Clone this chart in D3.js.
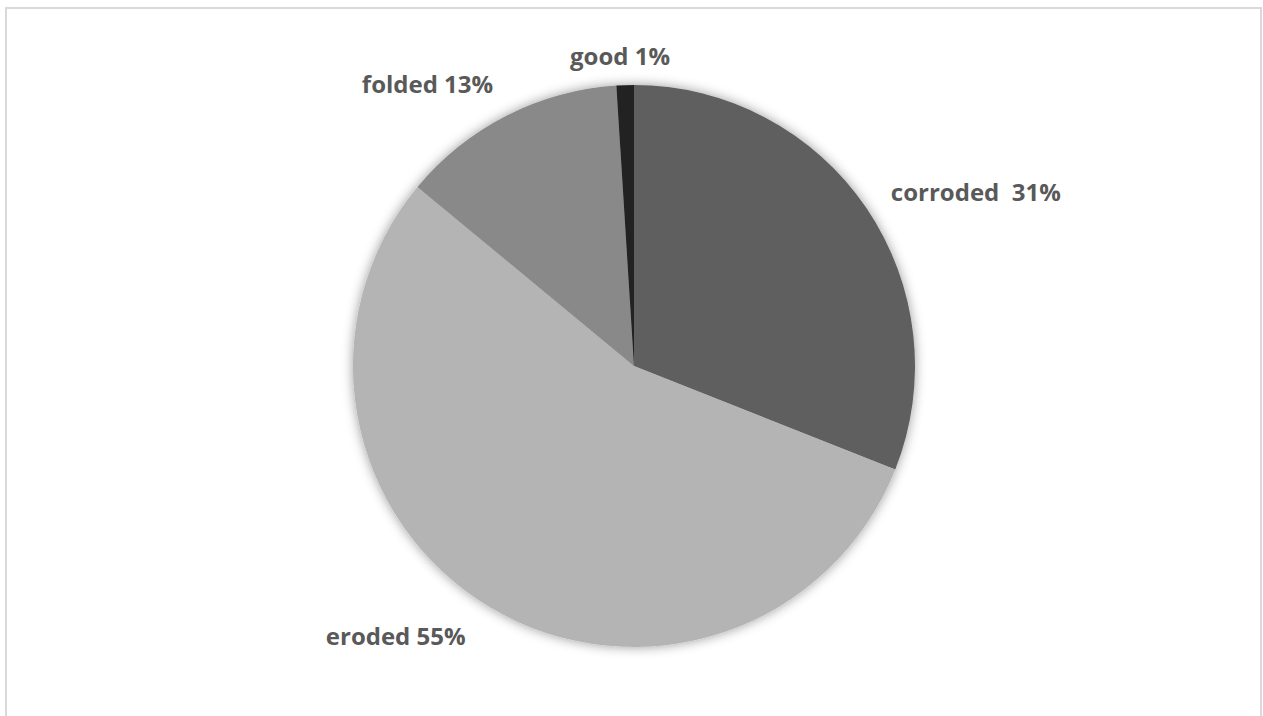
<!DOCTYPE html>
<html>
<head>
<meta charset="utf-8">
<script src="https://cdn.jsdelivr.net/npm/d3@7"></script>
<style>
  html, body { margin: 0; padding: 0; background: #fff; }
  svg { display: block; }
</style>
</head>
<body>
<svg id="chart" width="1263" height="716"></svg>
<script>
// Condition of the inspected pieces, share in percent
const categories = ["corroded", "eroded", "folded", "good"];
const shares = [31, 55, 13, 1];
const labelTexts = ["corroded  31%", "eroded 55%", "folded 13%", "good 1%"];
const fills = ["#5f5f5f", "#b4b4b4", "#898989", "#222222"];

const W = 1263, H = 716;
const cx = 634, cy = 366, R = 281;

const svg = d3.select("#chart");

// chart frame
svg.append("rect")
  .attr("x", 6).attr("y", 8)
  .attr("width", 1255).attr("height", 760)
  .attr("fill", "#fff")
  .attr("stroke", "#d9d9d9").attr("stroke-width", 2);

// soft glow under the pie
const defs = svg.append("defs");
const f = defs.append("filter").attr("id", "glow")
  .attr("x", "-20%").attr("y", "-20%").attr("width", "140%").attr("height", "140%");
f.append("feDropShadow")
  .attr("dx", 0).attr("dy", 0)
  .attr("stdDeviation", 6)
  .attr("flood-color", "#000").attr("flood-opacity", 0.4);

const data = categories.map((c, i) => ({ name: c, value: shares[i], label: labelTexts[i], fill: fills[i] }));

const pie = d3.pie().sort(null).value(d => d.value);
const arc = d3.arc().innerRadius(0).outerRadius(R);
const arcs = pie(data);

const g = svg.append("g").attr("transform", `translate(${cx},${cy})`);
g.append("g").attr("filter", "url(#glow)")
  .selectAll("path")
  .data(arcs)
  .join("path")
  .attr("d", arc)
  .attr("fill", d => d.data.fill);

// outside labels, placed along each slice's mid-angle
const labelArc = d3.arc().innerRadius(R + 38).outerRadius(R + 38);
const anchorFor = a => {
  const m = (a.startAngle + a.endAngle) / 2;
  const s = Math.sin(m);
  if (Math.abs(s) < 0.15) return "middle";
  return s > 0 ? "start" : "end";
};
const offsets = {
  corroded: [-7, 8],
  eroded: [-6, -2],
  folded: [4, 5],
  good: [-4, 11]
};

g.selectAll("text")
  .data(arcs)
  .join("text")
  .attr("transform", d => {
    const [x, y] = labelArc.centroid(d);
    const o = offsets[d.data.name];
    return `translate(${x + o[0]},${y + o[1]})`;
  })
  .attr("text-anchor", anchorFor)
  .attr("dominant-baseline", "middle")
  .attr("font-family", "'Open Sans', 'Noto Sans', sans-serif")
  .attr("font-weight", "bold")
  .attr("font-size", 24)
  .attr("fill", "#595959")
  .style("white-space", "pre")
  .text(d => d.data.label);
</script>
</body>
</html>
